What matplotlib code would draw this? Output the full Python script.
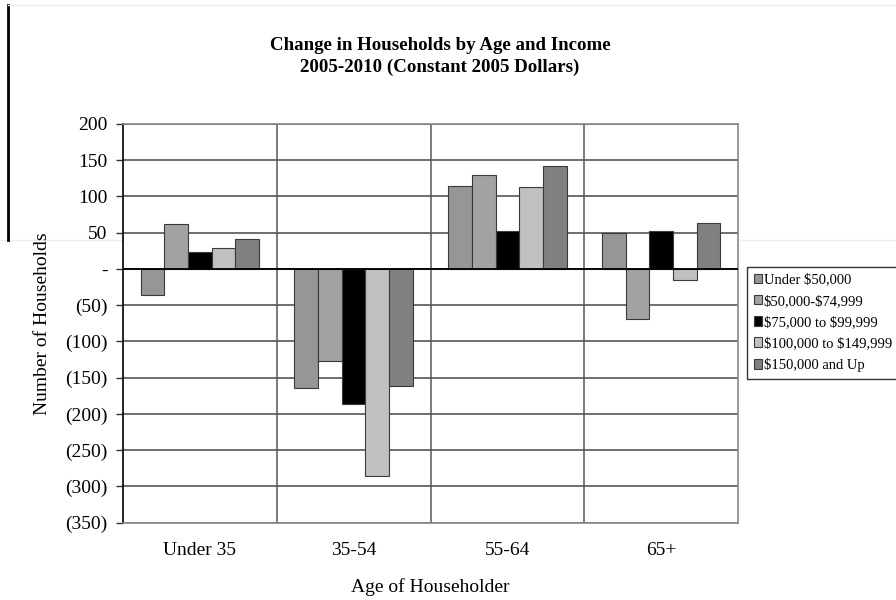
import matplotlib.pyplot as plt
import numpy as np
from matplotlib.ticker import FuncFormatter
from matplotlib.lines import Line2D

# Household change by age of householder and income band (thousands)
age_groups = ["Under 35", "35-54", "55-64", "65+"]
income_bands = ["Under $50,000", "$50,000-$74,999", "$75,000 to $99,999",
                "$100,000 to $149,999", "$150,000 and Up"]
changes = {
    "Under $50,000":        [-36, -165, 115, 50],
    "$50,000-$74,999":      [62, -127, 130, -69],
    "$75,000 to $99,999":   [24, -187, 52, 52],
    "$100,000 to $149,999": [29, -286, 113, -15],
    "$150,000 and Up":      [41, -162, 142, 63],
}
band_colors = ["#969696", "#a2a2a2", "#000000", "#c0c0c0", "#808080"]

plt.rcParams["font.family"] = ["Liberation Serif", "DejaVu Serif"]
plt.rcParams["text.parse_math"] = False  # dollar signs are literal

W, H = 896, 600
fig = plt.figure(figsize=(W / 100, H / 100), dpi=100)
ax = fig.add_axes([123 / W, 1 - 522.5 / H, (738 - 123) / W, (522.5 - 124) / H])

n = len(income_bands)
width = 0.154
x = np.arange(len(age_groups))
for i, band in enumerate(income_bands):
    offs = (i - (n - 1) / 2) * width
    ax.bar(x + offs, changes[band], width, color=band_colors[i],
           edgecolor="#3a3a3a", linewidth=0.8, zorder=3, label=band)

ax.set_xlim(-0.5, len(age_groups) - 0.5)
ax.set_ylim(-350, 200)
ax.set_yticks(np.arange(-350, 201, 50))


def paren_fmt(v, pos):
    v = int(round(v))
    if v == 0:
        return "-"
    if v < 0:
        return f"({-v})"
    return f"{v}"


ax.yaxis.set_major_formatter(FuncFormatter(paren_fmt))
ax.tick_params(axis="y", direction="out", length=5, width=1, color="#333333",
               labelsize=14, pad=6)
ax.set_xticks(x)
ax.set_xticklabels(age_groups)
ax.tick_params(axis="x", length=0, labelsize=14, pad=14)

# horizontal grid, zero line, group separators
ax.yaxis.grid(True, color="#555555", linewidth=1.2, zorder=1)
ax.axhline(0, color="black", linewidth=1.3, zorder=4)
for b in x[:-1] + 0.5:
    ax.axvline(b, color="#666666", linewidth=1.2, zorder=1)

for side in ["top", "right", "bottom"]:
    ax.spines[side].set_color("#888888")
    ax.spines[side].set_linewidth(1.2)
ax.spines["left"].set_color("black")
ax.spines["left"].set_linewidth(1.2)

ax.set_xlabel("Age of Householder", fontsize=14, labelpad=14)
ax.set_ylabel("Number of Households", fontsize=14, labelpad=10)

fig.text(440 / W, 1 - 45 / H, "Change in Households by Age and Income",
         ha="center", va="center", fontsize=13.6, fontweight="bold")
fig.text(440 / W, 1 - 67 / H, "2005-2010 (Constant 2005 Dollars)",
         ha="center", va="center", fontsize=13.6, fontweight="bold")

handles = [plt.Rectangle((0, 0), 1, 1, facecolor=c, edgecolor="#3a3a3a",
                         linewidth=0.8) for c in band_colors]
leg = fig.legend(handles, income_bands, loc="upper left",
                 bbox_to_anchor=(747 / W, 1 - 273 / H, (910 - 747) / W, 6 / H),
                 mode="expand", fontsize=10.5,
                 frameon=True, fancybox=False, edgecolor="black",
                 handlelength=0.6, handleheight=0.65, handletextpad=0.1,
                 borderpad=0.45, labelspacing=0.56, borderaxespad=0)
leg.get_frame().set_linewidth(1.0)

# sheet border fragments
fig.add_artist(Line2D([8 / W, 8 / W], [1 - 5 / H, 1 - 240 / H],
                      color="black", linewidth=2.0))
fig.add_artist(Line2D([8 / W, 1], [1 - 5 / H, 1 - 5 / H],
                      color="#eeeeee", linewidth=1.0))
fig.add_artist(Line2D([0, 1], [1 - 240 / H, 1 - 240 / H],
                      color="#eeeeee", linewidth=1.0, zorder=0))

fig.savefig("out.png", dpi=100)
